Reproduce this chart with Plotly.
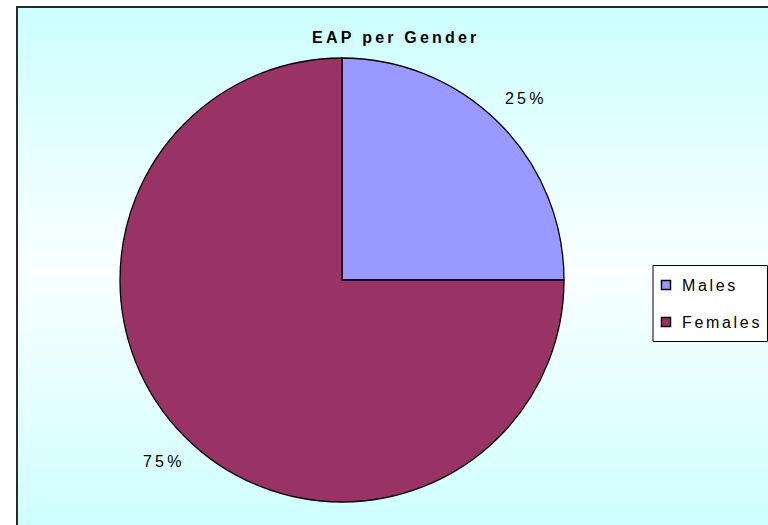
import math
import plotly.graph_objects as go

# Economically active population split by gender
categories = ["Males", "Females"]
shares = [25, 75]
colors = ["#9999FF", "#993366"]
title_text = "EAP per Gender"

W, H = 768, 525
FONT = "Liberation Sans, Arial, sans-serif"
THIN = "\u2009"
HAIR = "\u200a"


def spaced(s, gap=THIN):
    return gap.join(s)


def px(x):
    return x / W


def py(y):
    return 1 - y / H


# pie geometry in pixels
cx, cy, r = 342, 280, 222

fig = go.Figure()

fig.add_trace(go.Pie(
    labels=categories,
    values=shares,
    sort=False,
    direction="clockwise",
    rotation=0,
    marker=dict(colors=colors, line=dict(color="#000000", width=1.3)),
    textinfo="none",
    hoverinfo="skip",
    showlegend=False,
    domain=dict(x=[px(cx - r), px(cx + r)], y=[py(cy + r), py(cy - r)]),
))

shapes = []

# vertical cyan-white-cyan gradient behind the chart area
top, bottom, mid = 7, 540, 270
c_edge = (204, 255, 255)
c_mid = (250, 255, 255)
step = 3
y = top
while y < bottom:
    t = abs((y + step / 2) - mid) / (mid - top if y < mid else bottom - mid)
    t = min(max(t, 0), 1)
    col = tuple(round(c_mid[i] + (c_edge[i] - c_mid[i]) * t) for i in range(3))
    shapes.append(dict(
        type="rect", xref="paper", yref="paper", layer="below",
        x0=px(17), x1=px(W + 10), y0=py(y + step + 0.5), y1=py(y),
        fillcolor="rgb(%d,%d,%d)" % col, line=dict(width=0),
    ))
    y += step

# chart area frame
shapes.append(dict(
    type="rect", xref="paper", yref="paper", layer="below",
    x0=px(17), x1=px(W + 20), y0=py(H + 20), y1=py(7),
    fillcolor="rgba(0,0,0,0)", line=dict(color="#2a2a2a", width=2),
))

# legend box
shapes.append(dict(
    type="rect", xref="paper", yref="paper",
    x0=px(653), x1=px(767.5), y0=py(341.5), y1=py(265.5),
    fillcolor="#FFFFFF", line=dict(color="#000000", width=1),
))

annotations = []
legend_rows = [285, 322]
for name, col, ly in zip(categories, colors, legend_rows):
    shapes.append(dict(
        type="rect", xref="paper", yref="paper",
        x0=px(661.5), x1=px(670.5), y0=py(ly + 4.5), y1=py(ly - 4.5),
        fillcolor=col, line=dict(color="#000000", width=1.5),
    ))
    annotations.append(dict(
        x=px(680), y=py(ly), xref="paper", yref="paper",
        xanchor="left", yanchor="middle", showarrow=False,
        text=spaced(name, HAIR + HAIR), font=dict(family=FONT, size=16, color="#000000"),
    ))

# percentage labels placed outside each slice at its mid-angle
total = sum(shares)
cum = 0
for v in shares:
    mid_frac = (cum + v / 2) / total
    cum += v
    ang = 2 * math.pi * mid_frac
    k = 1.155
    lx = cx + r * k * math.sin(ang)
    ly = cy - r * k * math.cos(ang)
    pct = round(100 * v / total)
    annotations.append(dict(
        x=px(lx + 1), y=py(ly), xref="paper", yref="paper",
        xanchor="center", yanchor="middle", showarrow=False,
        text=spaced("%d%%" % pct, THIN), font=dict(family=FONT, size=16, color="#000000"),
    ))

annotations.append(dict(
    x=px(394), y=py(37), xref="paper", yref="paper",
    xanchor="center", yanchor="middle", showarrow=False,
    text="<b>" + spaced(title_text) + "</b>",
    font=dict(family=FONT, size=16, color="#000000"),
))

fig.update_layout(
    width=W, height=H,
    margin=dict(l=0, r=0, t=0, b=0),
    paper_bgcolor="#FFFFFF",
    plot_bgcolor="rgba(0,0,0,0)",
    shapes=shapes,
    annotations=annotations,
    showlegend=False,
)

fig.write_html("out.html")
